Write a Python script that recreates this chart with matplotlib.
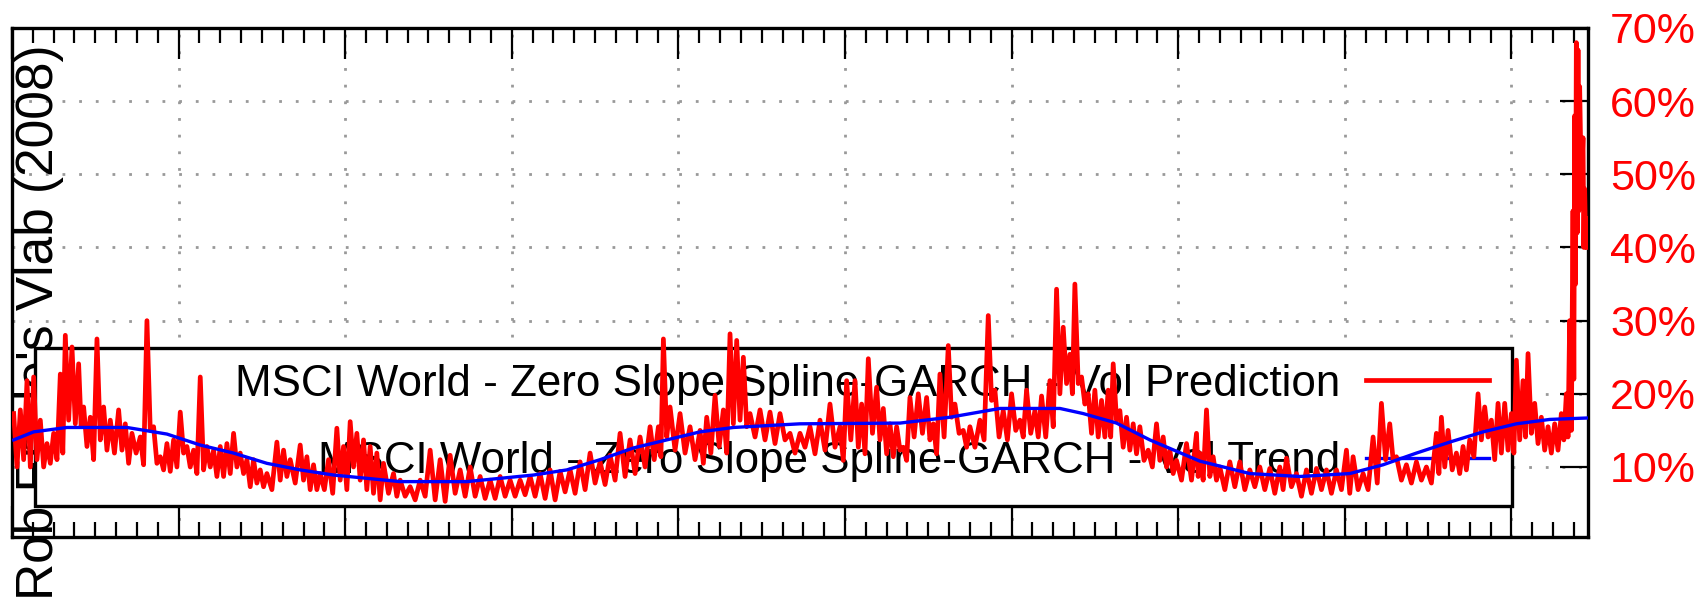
import matplotlib
matplotlib.use("Agg")
import matplotlib.pyplot as plt
import matplotlib.ticker as mticker
from matplotlib import font_manager as fm
from matplotlib.patches import Rectangle
import numpy as np

# years since start of sample; upper / lower envelope of the daily vol prediction (%)
vol_t = [0.01, 0.05, 0.09, 0.13, 0.17, 0.21, 0.25, 0.29, 0.32, 0.36, 0.40, 0.43, 0.47, 0.51, 0.55, 0.59,
         0.64, 0.68, 0.72, 0.77, 0.81, 0.85, 0.89, 0.93, 0.97, 1.01, 1.05, 1.09, 1.13, 1.17, 1.21, 1.25,
         1.29, 1.33, 1.37, 1.41, 1.45, 1.49, 1.53, 1.59, 1.63, 1.67, 1.73, 1.77, 1.81, 1.85, 1.90, 1.95,
         1.99, 2.03, 2.07, 2.11, 2.15, 2.19, 2.23, 2.29, 2.33, 2.39, 2.45, 2.51, 2.57, 2.63, 2.69, 2.75,
         2.81, 2.87, 2.93, 2.99, 3.05, 3.11, 3.17, 3.23, 3.29, 3.35, 3.41, 3.47, 3.53, 3.59, 3.65, 3.71,
         3.77, 3.83, 3.88, 3.91, 3.95, 4.01, 4.07, 4.13, 4.17, 4.22, 4.27, 4.31, 4.35, 4.39, 4.43, 4.49,
         4.55, 4.61, 4.67, 4.73, 4.79, 4.85, 4.91, 4.97, 5.01, 5.06, 5.10, 5.14, 5.19, 5.23, 5.27, 5.31,
         5.35, 5.39, 5.44, 5.49, 5.53, 5.57, 5.62, 5.66, 5.71, 5.75, 5.81, 5.86, 5.90, 5.95, 6.00, 6.05,
         6.09, 6.14, 6.18, 6.23, 6.27, 6.31, 6.35, 6.38, 6.42, 6.46, 6.50, 6.54, 6.58, 6.61, 6.65, 6.69,
         6.73, 6.77, 6.82, 6.87, 6.91, 6.95, 6.99, 7.05, 7.11, 7.13, 7.17, 7.21, 7.25, 7.31, 7.37, 7.43,
         7.49, 7.55, 7.61, 7.65, 7.71, 7.77, 7.83, 7.89, 7.95, 8.01, 8.05, 8.11, 8.17, 8.22, 8.27, 8.31,
         8.37, 8.43, 8.49, 8.55, 8.58, 8.62, 8.67, 8.71, 8.75, 8.80, 8.84, 8.88, 8.92, 8.96, 9.00, 9.03,
         9.07, 9.10, 9.14, 9.18, 9.22, 9.26, 9.30, 9.33, 9.35, 9.37, 9.38, 9.39, 9.40, 9.41, 9.43, 9.44,
         9.45]
vol_hi = [17.3, 17.8, 21.8, 22.3, 16.4, 13.2, 14.6, 22.7, 28.0, 26.4, 24.1, 18.2, 16.8, 27.5, 18.2, 16.4,
          17.8, 15.9, 14.6, 14.1, 30.0, 15.5, 11.4, 13.2, 13.7, 17.5, 12.8, 12.3, 22.3, 12.8, 12.3, 12.8,
          13.2, 14.6, 11.9, 11.0, 11.0, 9.6, 9.1, 13.4, 12.3, 11.0, 13.0, 11.4, 10.3, 9.1, 11.0, 15.3,
          12.8, 16.2, 14.6, 13.7, 12.8, 11.9, 10.5, 9.1, 8.2, 7.3, 8.2, 12.3, 11.0, 11.6, 9.6, 10.0,
          8.7, 8.2, 8.7, 8.2, 8.2, 8.7, 9.1, 9.6, 9.4, 9.6, 10.7, 11.9, 10.7, 11.6, 14.6, 13.7,
          14.1, 15.5, 15.5, 27.5, 18.2, 17.3, 15.5, 15.0, 16.8, 19.8, 17.8, 28.2, 27.3, 25.0, 17.3, 17.8,
          17.5, 17.3, 14.6, 14.6, 15.5, 16.4, 18.6, 15.5, 21.8, 21.8, 18.6, 24.8, 20.9, 18.0, 15.9, 15.5,
          12.7, 19.5, 20.0, 19.5, 15.9, 22.7, 26.6, 18.6, 15.0, 15.5, 16.4, 30.7, 20.5, 17.7, 20.0, 16.4,
          20.5, 17.7, 19.7, 21.8, 34.3, 29.1, 25.4, 35.0, 22.3, 20.0, 20.5, 19.1, 20.5, 24.1, 17.7, 16.8,
          15.9, 15.5, 12.3, 15.9, 14.1, 12.3, 10.9, 13.2, 14.6, 11.9, 17.8, 11.4, 10.0, 10.7, 10.7, 9.6,
          10.0, 9.8, 10.0, 11.2, 9.1, 9.6, 9.8, 9.6, 9.6, 12.3, 11.4, 9.1, 14.1, 18.7, 15.9, 11.4,
          10.3, 10.7, 10.0, 14.6, 16.8, 15.0, 11.9, 12.8, 13.7, 20.0, 18.2, 16.4, 18.7, 18.7, 17.3, 24.6,
          21.8, 25.5, 18.7, 16.8, 15.5, 15.9, 17.3, 20.0, 30.0, 45.0, 58.0, 68.0, 67.0, 62.0, 55.0, 48.0,
          44.0]
vol_lo = [10.0, 11.0, 10.0, 11.0, 10.0, 10.5, 11.0, 11.9, 16.4, 15.9, 15.5, 12.8, 11.0, 13.7, 12.3, 11.9,
          12.3, 10.5, 11.9, 10.3, 15.0, 10.5, 9.6, 9.4, 10.0, 11.9, 10.0, 9.1, 9.6, 10.0, 8.7, 8.7,
          9.1, 10.0, 9.1, 7.3, 7.8, 7.3, 6.9, 8.2, 8.7, 7.8, 8.2, 6.9, 6.9, 6.9, 6.4, 8.2,
          6.9, 10.0, 8.2, 6.9, 6.4, 5.5, 6.4, 6.0, 6.0, 5.5, 6.0, 5.5, 5.3, 6.4, 6.0, 6.0,
          5.7, 5.7, 6.0, 6.0, 6.2, 6.0, 5.7, 5.5, 6.6, 6.4, 6.9, 7.8, 7.6, 8.2, 8.7, 9.1,
          10.0, 11.0, 11.4, 14.1, 12.3, 11.9, 11.0, 10.5, 11.9, 12.8, 11.9, 15.9, 16.4, 15.5, 14.1, 13.7,
          13.2, 13.7, 11.9, 12.7, 11.8, 12.3, 12.7, 10.9, 13.7, 12.7, 11.8, 14.6, 13.7, 11.8, 11.4, 12.3,
          10.9, 14.1, 14.6, 13.7, 11.8, 14.1, 16.8, 14.6, 12.7, 12.7, 13.7, 19.1, 14.1, 13.7, 15.0, 14.1,
          14.6, 14.1, 14.1, 15.5, 20.0, 21.4, 20.0, 21.4, 18.6, 14.6, 14.1, 14.1, 14.1, 16.4, 12.7, 12.3,
          11.8, 10.9, 10.0, 10.9, 10.0, 9.1, 8.2, 8.2, 8.7, 8.2, 8.7, 8.2, 6.9, 7.3, 6.9, 7.3,
          6.9, 6.4, 6.9, 7.3, 6.0, 6.4, 6.9, 6.4, 6.9, 6.4, 6.9, 6.9, 7.8, 11.0, 11.0, 8.2,
          7.8, 8.2, 7.8, 9.1, 10.0, 9.6, 9.1, 9.6, 11.4, 13.7, 14.1, 11.0, 11.9, 12.3, 11.9, 13.7,
          14.1, 14.6, 13.2, 12.3, 11.9, 12.3, 13.7, 14.1, 15.0, 22.0, 35.0, 42.0, 45.0, 48.0, 40.0, 42.0,
          40.0]

# smooth spline trend (%)
trend_t = [0.01, 0.13, 0.33, 0.69, 0.93, 1.13, 1.33, 1.53, 1.73, 1.93, 2.33, 2.73, 3.13, 3.33, 3.53, 3.73,
           3.93, 4.13, 4.33, 4.73, 5.33, 5.63, 5.93, 6.29, 6.43, 6.63, 6.83, 7.13, 7.43, 7.73, 8.03, 8.23,
           8.43, 8.63, 8.83, 9.03, 9.23, 9.46]
trend_v = [13.7, 14.8, 15.4, 15.4, 14.5, 13.0, 11.9, 10.5, 9.6, 8.9, 8.0, 8.0, 8.9, 9.6, 11.0, 12.6,
           13.7, 14.8, 15.4, 15.9, 16.0, 16.8, 18.0, 18.0, 17.3, 16.0, 13.7, 10.8, 9.1, 8.7, 9.1, 10.3,
           11.9, 13.4, 14.8, 15.9, 16.5, 16.7]

yticks = [10, 20, 30, 40, 50, 60, 70]
ytick_labels = ['10%', '20%', '30%', '40%', '50%', '60%', '70%']
labels = ['MSCI World - Zero Slope Spline-GARCH - Vol Prediction',
          'MSCI World - Zero Slope Spline-GARCH - Vol Trend']
ylabel = "Rob Engle's Vlab (2008)"

plt.rcParams['font.family'] = ['Liberation Sans', 'DejaVu Sans']

# legend text in the original is tall and narrow
names = {f.name for f in fm.fontManager.ttflist}
if 'Liberation Sans Narrow' in names:
    leg_size = 38.5
    leg_font = fm.FontProperties(family='Liberation Sans Narrow', size=leg_size)
else:
    leg_size = 31.6
    leg_font = fm.FontProperties(family='Liberation Sans', size=leg_size)
fs_px = leg_size * 100 / 72

W, H = 1708, 597
fig = plt.figure(figsize=(W/100, H/100), dpi=100)
ax = fig.add_axes([12/W, 1-537/H, 1576/W, 509/H])
ax.set_xlim(0, 9.46)
ax.set_ylim(0.43, 70)
ax.set_axisbelow(True)

# zig-zag between upper and lower envelope to mimic the daily noise
t = np.array(vol_t)
mid = np.append((t[:-1] + t[1:]) / 2, t[-1] + 0.005)
xs = np.column_stack([t, mid]).ravel()
ys = np.column_stack([vol_hi, vol_lo]).ravel()
l1, = ax.plot(xs, ys, color='#ff0000', lw=3.4, zorder=3, label=labels[0])
l2, = ax.plot(trend_t, trend_v, color='#0000ff', lw=2.4, zorder=4, label=labels[1])

# ticks
ax.xaxis.set_major_locator(mticker.MultipleLocator(1))
ax.xaxis.set_minor_locator(mticker.MultipleLocator(0.125))
ax.tick_params(axis='x', which='both', direction='in', top=True, bottom=True,
               labelbottom=False, labeltop=False, width=1.6)
ax.tick_params(axis='x', which='major', length=22)
ax.tick_params(axis='x', which='minor', length=11)
ax.yaxis.tick_right()
ax.set_yticks(yticks, ytick_labels)
ax.tick_params(axis='y', which='major', direction='in', left=False, right=True,
               length=20, width=1.6, labelcolor='#ff0000', labelsize=31, pad=16)

ax.grid(True, which='major', color='#999999', linestyle=(0, (1, 5)), linewidth=2)
for s in ax.spines.values():
    s.set_linewidth(2.4)

ax.set_ylabel(ylabel, fontsize=37, rotation=90)
ax.yaxis.set_label_position('left')
ax.yaxis.set_label_coords(52/1576, 215/509)

# legend box (gnuplot style, opaque, under the data)
ax.add_patch(Rectangle((23/1576, 31/509), 1477/1576, 158/509, transform=ax.transAxes,
                       facecolor='white', edgecolor='black', lw=2.4, zorder=1.5))
leg = ax.legend(handles=[l1, l2], loc='center right', bbox_to_anchor=(1477/1576, 114/509),
                frameon=False, markerfirst=False, prop=leg_font, borderpad=0, borderaxespad=0,
                handlelength=123/fs_px, handletextpad=26/fs_px, labelspacing=0.83)
leg.set_zorder(2)

fig.savefig('out.png', dpi=100)
